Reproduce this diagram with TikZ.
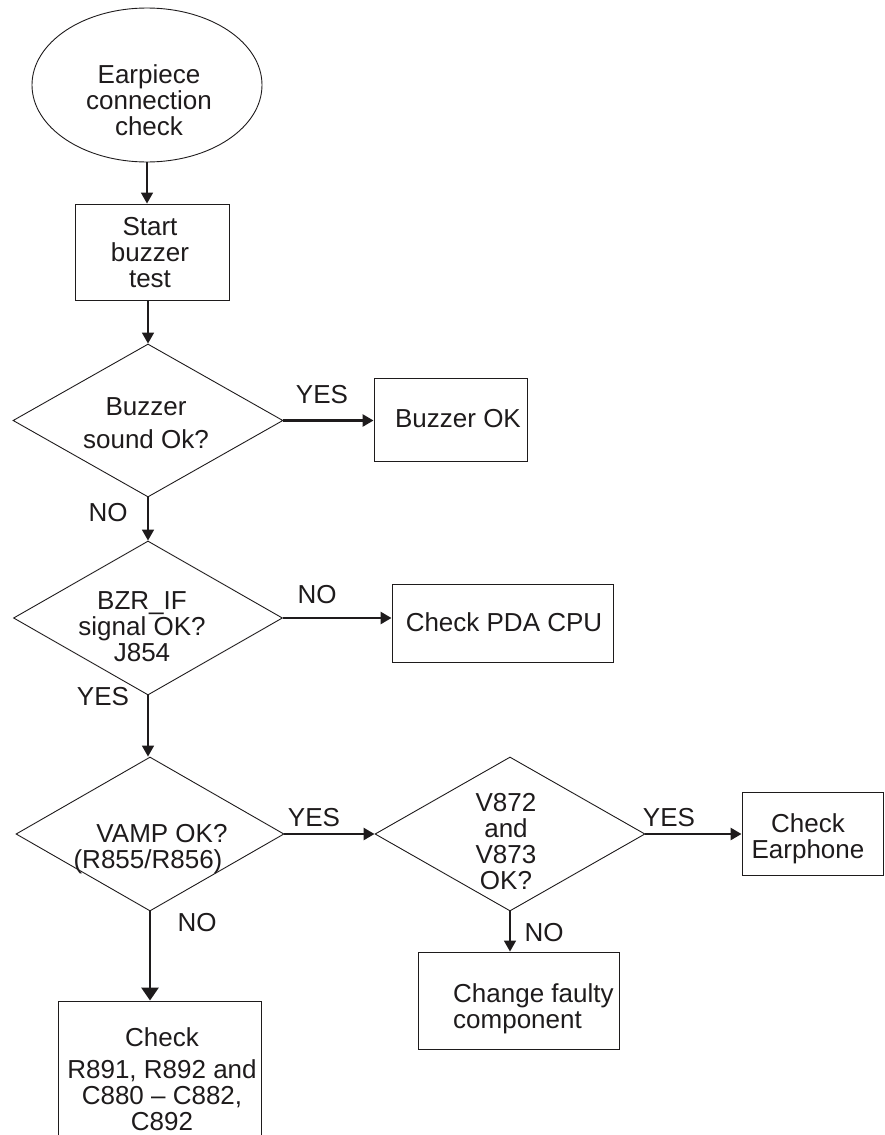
\documentclass[tikz,border=0pt]{standalone}
\usepackage{fontspec}
\setmainfont{Liberation Sans}
\usetikzlibrary{shapes.geometric,arrows.meta}
\definecolor{ink}{HTML}{1E1B1C}
\begin{document}
\begin{tikzpicture}[x=1pt,y=-1pt,
  font=\fontsize{26}{26}\selectfont,
  outline/.style={draw=ink, line width=0.9pt, inner sep=0pt},
  procbox/.style={outline, rectangle},
  decision/.style={outline, diamond},
  oval/.style={outline, ellipse},
  txt/.style={align=center, inner sep=0pt, text=ink},
  tag/.style={inner sep=0pt, text=ink},
  flow/.style={draw=ink, line width=1.6pt, -{Triangle[length=11pt,width=12pt]}},
  boldflow/.style={draw=ink, line width=2.6pt, -{Triangle[length=11pt,width=12pt]}},
  bigflow/.style={draw=ink, line width=2.8pt, -{Triangle[length=13pt,width=17pt]}}
]
\useasboundingbox (0,0) rectangle (884,1135);
\clip (0,0) rectangle (884,1135);

% shapes
\node[oval, minimum width=230pt, minimum height=154pt] (ell) at (147,85) {};
\node[procbox, minimum width=154pt, minimum height=96pt] (sb) at (152,252) {};
\node[decision, minimum width=270pt, minimum height=153pt] (q1) at (148,420.5) {};
\node[procbox, minimum width=153pt, minimum height=83pt] (bok) at (450.5,419.5) {};
\node[decision, minimum width=269pt, minimum height=154pt] (q2) at (148,618) {};
\node[procbox, minimum width=221pt, minimum height=78pt] (pda) at (502.5,623) {};
\node[decision, minimum width=268pt, minimum height=154pt] (q3) at (150,834) {};
\node[decision, minimum width=270pt, minimum height=154pt] (q4) at (510,834) {};
\node[procbox, minimum width=141pt, minimum height=83pt] (ear) at (812.5,833.5) {};
\node[procbox, minimum width=201pt, minimum height=97pt] (chg) at (518.5,1000.5) {};
\node[procbox, minimum width=203pt, minimum height=159pt] (chk) at (159.5,1080.5) {};

% texts
\node[txt] (ellt) at (149,100) {Earpiece\\connection\\check};
\node[txt] (sbt) at (150,253) {Start\\buzzer\\test};
\node[txt] (q1t) at (146,423) {Buzzer\\[7pt]sound Ok?};
\node[txt] (bokt) at (458,419) {Buzzer OK};
\node[txt] (q2t) at (142,627) {BZR\_IF\\signal OK?\\J854};
\node[txt] (pdat) at (504,622) {Check PDA CPU};
\node[txt] (q3t) at (148,849) {\hspace*{28pt}VAMP OK?\\(R855/R856)};
\node[txt] (q4t) at (506,842) {V872\\and\\V873\\OK?};
\node[txt] (eart) at (808,839) {Check\\Earphone};
\node[txt, align=left, anchor=west] (chgt) at (453,1009) {Change faulty\\component};
\node[txt] (chkt) at (162,1079) {Check\\[6pt]R891, R892 and\\C880 – C882,\\C892};

% branch labels
\node[tag] (y1) at (322,395) {YES};
\node[tag] (n1) at (108,513) {NO};
\node[tag] (n2) at (317,595) {NO};
\node[tag] (y2) at (103,697) {YES};
\node[tag] (y3) at (314,818) {YES};
\node[tag] (y4) at (669,818) {YES};
\node[tag] (n3) at (197,923) {NO};
\node[tag] (n4) at (544,933) {NO};

% connectors
\draw[flow] (ell.south) -- (ell.south |- sb.north);
\draw[flow] (q1.north |- sb.south) -- (q1.north);
\draw[boldflow] (q1.east) -- (q1.east -| bok.west);
\draw[flow] (q1.south) -- (q2.north);
\draw[boldflow] (q2.east) -- (q2.east -| pda.west);
\draw[flow] (q2.south) -- (q2.south |- q3.north);
\draw[boldflow] (q3.east) -- (q4.west);
\draw[boldflow] (q4.east) -- (q4.east -| ear.west);
\draw[flow] (q4.south) -- (q4.south |- chg.north);
\draw[bigflow] (q3.south) -- (q3.south |- chk.north);
\end{tikzpicture}
\end{document}
